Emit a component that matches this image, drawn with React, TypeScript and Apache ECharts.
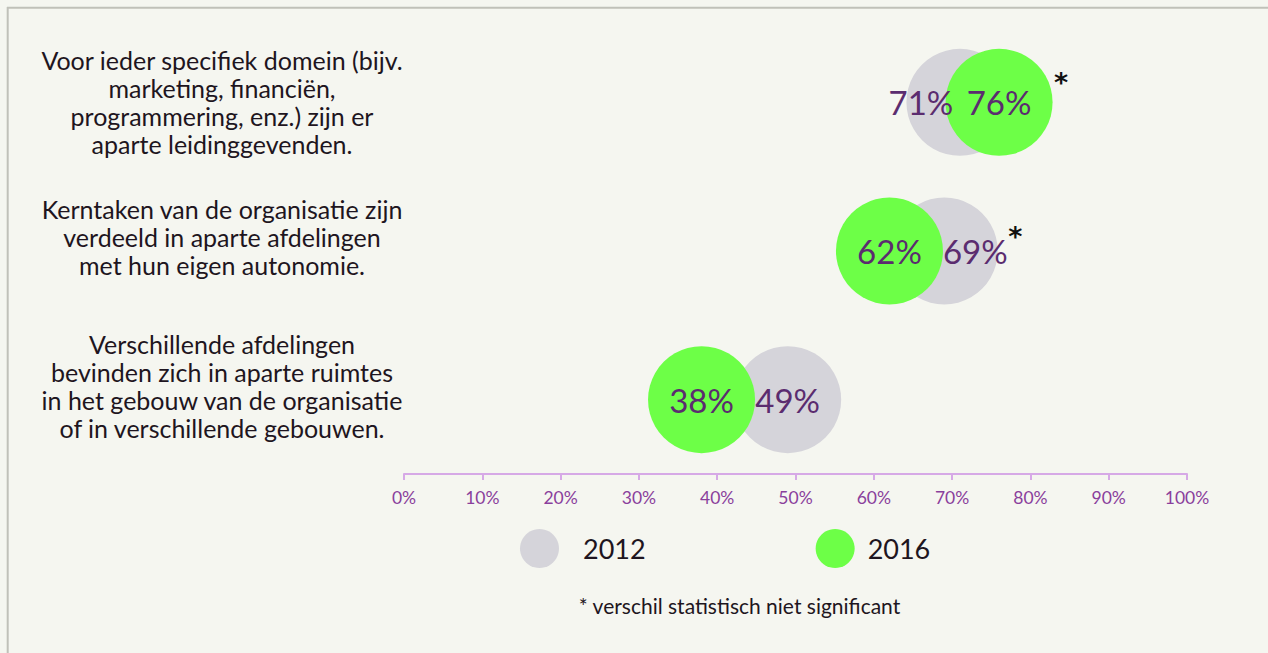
import React, { useEffect, useRef } from "react";
import * as echarts from "echarts";

const categories = [
  "Voor ieder specifiek domein (bijv.\nmarketing, financiën,\nprogrammering, enz.) zijn er\naparte leidinggevenden.",
  "Kerntaken van de organisatie zijn\nverdeeld in aparte afdelingen\nmet hun eigen autonomie.",
  "Verschillende afdelingen\nbevinden zich in aparte ruimtes\nin het gebouw van de organisatie\nof in verschillende gebouwen.",
];
const values2012 = [71, 69, 49];
const values2016 = [76, 62, 38];
const notSignificant = [true, true, false];
const seriesNames = ["2012", "2016"];
const xTicks = [0, 10, 20, 30, 40, 50, 60, 70, 80, 90, 100];
const footnote = "* verschil statistisch niet significant";

const FONT = "Lato, 'Noto Sans', sans-serif";
const BG = "#f5f6f0";
const GRAY = "#d5d4da";
const GREEN = "#6dff47";
const PURPLE = "#5b2c6f";
const AXIS_PURPLE = "#8a3f9c";
const DARK = "#1e1520";

// label nudges (style only)
const shift2012 = [[-39, 0], [31, 0], [0, 0]];
const starShift = [[62, -20], [71, -15]];
const raiseLabel = [false, true, true];

export default function App() {
  const ref = useRef<HTMLDivElement>(null);
  useEffect(() => {
    if (!ref.current) return;
    const chart = echarts.init(ref.current, null, { renderer: "svg" });
    const labelBase = {
      show: true,
      position: "inside",
      color: PURPLE,
      fontSize: 33,
      fontFamily: FONT,
      formatter: (p: any) => `${p.value[0]}%`,
    };
    const starData: any[] = [];
    let k = 0;
    categories.forEach((c, i) => {
      if (notSignificant[i]) {
        const s = starShift[k++];
        starData.push({
          value: [Math.max(values2012[i], values2016[i]), i],
          label: { offset: s },
        });
      }
    });
    chart.setOption({
      animation: false,
      backgroundColor: BG,
      grid: {
        left: 404,
        right: 81,
        top: 28,
        bottom: 179,
        containLabel: false,
        outerBoundsMode: "none",
      },
      xAxis: {
        type: "value",
        min: xTicks[0],
        max: xTicks[xTicks.length - 1],
        interval: 10,
        axisLine: { show: true, lineStyle: { color: "#d6a9e6", width: 2 } },
        axisTick: { show: true, length: 6, lineStyle: { color: "#d6a9e6", width: 2 } },
        splitLine: { show: false },
        axisLabel: {
          color: AXIS_PURPLE,
          fontSize: 17.5,
          fontFamily: FONT,
          margin: 14,
          formatter: "{value}%",
        },
      },
      yAxis: {
        type: "category",
        inverse: true,
        data: categories,
        axisLine: { show: false },
        axisTick: { show: false },
        splitLine: { show: false },
        axisLabel: {
          align: "center",
          margin: 182,
          color: DARK,
          fontSize: 25,
          lineHeight: 28,
          fontFamily: FONT,
          formatter: (v: string, i: number) => (raiseLabel[i] ? v + "\n" : v),
        },
      },
      legend: {
        data: [
          { name: seriesNames[0], textStyle: { padding: [0, 0, 0, 19] } },
          { name: seriesNames[1], textStyle: { padding: [0, 0, 0, 8] } },
        ],
        left: 520,
        top: 529,
        padding: 0,
        itemWidth: 39,
        itemHeight: 39,
        itemGap: 170,
        icon: "circle",
        textStyle: { color: DARK, fontSize: 27, fontFamily: FONT },
      },
      graphic: [
        {
          type: "line",
          shape: { x1: 7, y1: 7.7, x2: 1268, y2: 7.7 },
          style: { stroke: "#c0c1b9", lineWidth: 2 },
        },
        {
          type: "line",
          shape: { x1: 7.7, y1: 7, x2: 7.7, y2: 653 },
          style: { stroke: "#c0c1b9", lineWidth: 2 },
        },
        {
          type: "text",
          x: 739.5,
          y: 605,
          style: {
            text: footnote,
            fill: DARK,
            fontSize: 21,
            fontFamily: FONT,
            align: "center",
            verticalAlign: "middle",
          },
        },
      ],
      series: [
        {
          name: seriesNames[0],
          type: "scatter",
          symbol: "circle",
          symbolSize: 107,
          itemStyle: { color: GRAY, opacity: 1 },
          data: values2012.map((v, i) => ({ value: [v, i] })),
          label: { show: false },
          z: 2,
        },
        {
          name: seriesNames[1],
          type: "scatter",
          symbol: "circle",
          symbolSize: 107,
          itemStyle: { color: GREEN, opacity: 1 },
          data: values2016.map((v, i) => ({ value: [v, i] })),
          label: labelBase,
          z: 3,
        },
        {
          name: "labels2012",
          type: "scatter",
          symbolSize: 0,
          silent: true,
          itemStyle: { opacity: 1 },
          data: values2012.map((v, i) => ({
            value: [v, i],
            label: { offset: shift2012[i] },
          })),
          label: labelBase,
          z: 4,
        },
        {
          name: "sig",
          type: "scatter",
          symbolSize: 0,
          silent: true,
          itemStyle: { opacity: 1 },
          data: starData,
          label: {
            show: true,
            position: "inside",
            formatter: "*",
            color: "#111111",
            fontSize: 27,
            fontWeight: "bold",
            fontFamily: "'DejaVu Sans', sans-serif",
          },
          z: 4,
        },
      ],
    });
    return () => chart.dispose();
  }, []);
  return (
    <div
      ref={ref}
      style={{ position: "fixed", left: 0, top: 0, width: 1268, height: 653, background: BG }}
    />
  );
}
